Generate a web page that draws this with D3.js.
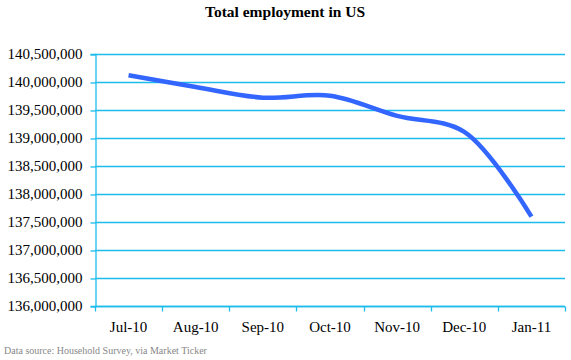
<!DOCTYPE html>
<html>
<head>
<meta charset="utf-8">
<script src="https://cdn.jsdelivr.net/npm/d3@7"></script>
<style>
html,body{margin:0;padding:0;background:#fff;}
svg{display:block;}
</style>
</head>
<body>
<script>
const months = ["Jul-10","Aug-10","Sep-10","Oct-10","Nov-10","Dec-10","Jan-11"];
const employment = [140120000, 139910000, 139720000, 139755000, 139395000, 139110000, 137595000];
const yTicks = [136000000,136500000,137000000,137500000,138000000,138500000,139000000,139500000,140000000,140500000];
const title = "Total employment in US";
const source = "Data source: Household Survey, via Market Ticker";

const W = 571, H = 360;
const m = {left: 95, right: 6, top: 54, bottom: 54};
const svg = d3.select("body").append("svg").attr("width", W).attr("height", H);
const font = "'Liberation Serif','Times New Roman',serif";
const gridColor = "#1DBDEB";

const x = d3.scaleBand().domain(months).range([m.left, W - m.right]).padding(0);
const y = d3.scaleLinear().domain([136000000, 140500000]).range([H - m.bottom, m.top]);

// gridlines
svg.append("g").selectAll("line").data(yTicks).join("line")
  .attr("x1", m.left).attr("x2", W - m.right)
  .attr("y1", d => Math.round(y(d)) + 0.5).attr("y2", d => Math.round(y(d)) + 0.5)
  .attr("stroke", gridColor).attr("stroke-width", 1.3);

// y axis
const yAxis = svg.append("g").attr("transform", `translate(${m.left + 0.5},0)`)
  .call(d3.axisLeft(y).tickValues(yTicks).tickFormat(d3.format(",")).tickSize(5).tickPadding(8));
yAxis.select(".domain").attr("stroke", gridColor).attr("stroke-width", 1.3);
yAxis.selectAll(".tick line").attr("stroke", gridColor).attr("stroke-width", 1.3)
  .attr("transform", "translate(0,0.5)");
yAxis.selectAll("text").attr("font-family", font).attr("font-size", 15).attr("fill", "#000");

// x axis
const xTickPos = months.map(d => x(d)).concat([x(months[months.length - 1]) + x.bandwidth()]);
const xAxis = svg.append("g").attr("transform", `translate(0,${Math.round(y(136000000)) + 0.5})`);
xAxis.append("line").attr("x1", m.left).attr("x2", W - m.right).attr("stroke", gridColor).attr("stroke-width", 1.3);
xAxis.selectAll(".xt").data(xTickPos).join("line").attr("class", "xt")
  .attr("x1", d => Math.round(d) + 0.5).attr("x2", d => Math.round(d) + 0.5)
  .attr("y1", 0).attr("y2", 5).attr("stroke", gridColor).attr("stroke-width", 1.3);
xAxis.selectAll("text").data(months).join("text")
  .attr("x", d => x(d) + x.bandwidth() / 2).attr("y", 25)
  .attr("text-anchor", "middle").attr("font-family", font).attr("font-size", 15).attr("fill", "#000")
  .text(d => d);

// line
const line = d3.line()
  .x((d, i) => x(months[i]) + x.bandwidth() / 2)
  .y(d => y(d))
  .curve(d3.curveCatmullRom.alpha(0.5));
svg.append("path").datum(employment).attr("d", line)
  .attr("fill", "none").attr("stroke", "#3366FF").attr("stroke-width", 4.5)
  .attr("stroke-linejoin", "round");

// title
svg.append("text").attr("x", 285).attr("y", 17).attr("text-anchor", "middle")
  .attr("font-family", font).attr("font-weight", "bold").attr("font-size", 15.5)
  .attr("fill", "#000").text(title);

// source
svg.append("text").attr("x", 4).attr("y", 354)
  .attr("font-family", font).attr("font-size", 10).attr("fill", "#888")
  .text(source);
</script>
</body>
</html>
